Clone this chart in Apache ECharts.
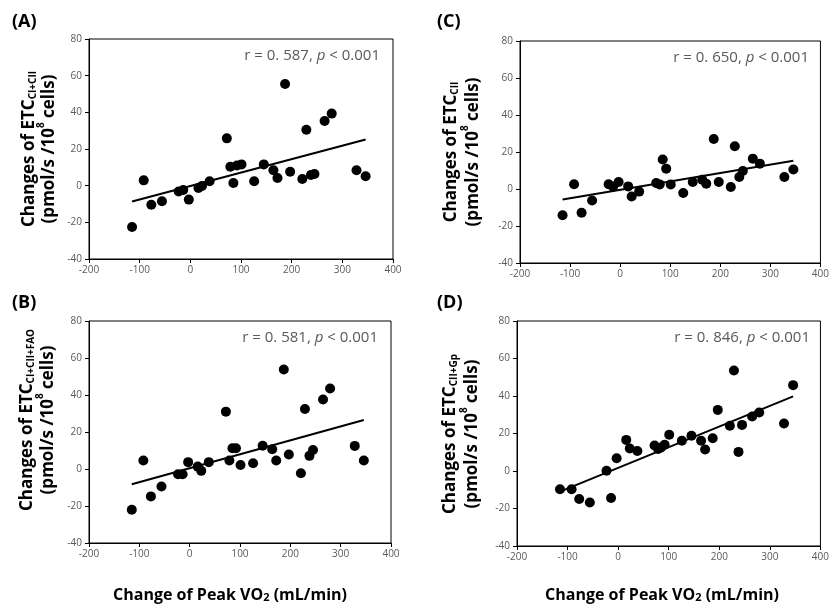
<!DOCTYPE html>
<html><head><meta charset="utf-8">
<script src="https://cdn.jsdelivr.net/npm/echarts@6/dist/echarts.min.js"></script>
<style>html,body{margin:0;padding:0;background:#fff}#c{width:832px;height:611px}</style>
</head><body><div id="c"></div>
<script>
// Change of Peak VO2 (mL/min) — shared by all panels
const peakVO2Change = [-115, -92, -77, -56, -23, -14, -3, 16, 23, 38, 72, 79, 85, 92, 101, 126, 145, 164, 172, 187, 197, 221, 229, 238, 245, 265, 279, 328, 346];
// (A) Changes of ETC CI+CII
const etcCIplusCII = [-22.5, 2.9, -10.4, -8.5, -3.2, -2.4, -7.6, -1.3, -0.2, 2.4, 25.8, 10.3, 1.5, 11.0, 11.6, 2.4, 11.6, 8.4, 4.2, 55.5, 7.6, 3.6, 30.5, 5.8, 6.4, 35.3, 39.3, 8.4, 5.1];
// (B) Changes of ETC CI+CII+FAO
const etcCIplusCIIplusFAO = [-22.0, 4.6, -14.8, -9.5, -2.8, -2.8, 3.7, 1.3, -1.0, 3.7, 31.0, 4.6, 11.2, 11.2, 2.2, 3.1, 12.6, 10.7, 4.6, 53.8, 7.8, -2.3, 32.4, 7.1, 10.3, 37.6, 43.5, 12.5, 4.6];
// (C) Changes of ETC CII
const etcCII = [-14.2, 2.6, -12.8, -6.2, 2.6, 1.3, 3.8, 1.4, -4.1, -1.4, 3.2, 2.5, 15.9, 11.0, 2.5, -2.2, 3.8, 5.0, 2.9, 27.0, 3.8, 1.1, 23.1, 6.5, 9.7, 16.4, 13.7, 6.5, 10.5];
// (D) Changes of ETC CII+Gp
const etcCIIplusGp = [-9.7, -9.7, -14.9, -16.8, 0.1, -14.4, 6.8, 16.6, 12.0, 10.7, 13.6, 11.8, 12.5, 14.0, 19.3, 16.1, 18.8, 16.1, 11.5, 17.5, 32.6, 24.1, 53.6, 10.2, 24.6, 29.1, 31.2, 25.3, 45.8];

const xTicks = [-200, -100, 0, 100, 200, 300, 400];
const yTicks = [-40, -20, 0, 20, 40, 60, 80];
const panelLabels = ['(A)', '(B)', '(C)', '(D)'];
const rValues = ['0. 587', '0. 581', '0. 650', '0. 846'];
const pValue = '< 0.001';
const subscripts = ['CI+CII', 'CI+CII+FAO', 'CII', 'CII+Gp'];
const xTitle = 'Change of Peak VO';

const panels = [etcCIplusCII, etcCIplusCIIplusFAO, etcCII, etcCIIplusGp];

// layout (positions only)
const grids = [
  {left: 89, top: 39, width: 304, height: 220},
  {left: 89, top: 321, width: 302, height: 222},
  {left: 520, top: 41, width: 302, height: 222},
  {left: 517, top: 321, width: 306, height: 225}
];
const FONT = '"Open Sans", "DejaVu Sans", sans-serif';

function fit(xs, ys) {
  const n = xs.length;
  let sx = 0, sy = 0, sxx = 0, sxy = 0;
  for (let i = 0; i < n; i++) { sx += xs[i]; sy += ys[i]; sxx += xs[i] * xs[i]; sxy += xs[i] * ys[i]; }
  const b = (n * sxy - sx * sy) / (n * sxx - sx * sx);
  const a = (sy - b * sx) / n;
  const x0 = Math.min(...xs), x1 = Math.max(...xs);
  return [[x0, a + b * x0], [x1, a + b * x1]];
}

const option = {
  animation: false,
  backgroundColor: '#fff',
  grid: grids.map(g => Object.assign({show: true, borderColor: '#000', borderWidth: 1, backgroundColor: 'transparent'}, g)),
  xAxis: grids.map((g, i) => ({
    type: 'value', gridIndex: i,
    min: xTicks[0], max: xTicks[xTicks.length - 1], interval: xTicks[1] - xTicks[0],
    axisLine: {onZero: false, lineStyle: {color: '#000', width: 1}},
    axisTick: {show: true, inside: false, length: 4, lineStyle: {color: '#000'}},
    splitLine: {show: false},
    axisLabel: {color: '#595959', fontSize: 10, fontFamily: FONT, margin: 6}
  })),
  yAxis: grids.map((g, i) => ({
    type: 'value', gridIndex: i,
    min: yTicks[0], max: yTicks[yTicks.length - 1], interval: yTicks[1] - yTicks[0],
    axisLine: {show: true, onZero: false, lineStyle: {color: '#000', width: 1}},
    axisTick: {show: true, inside: false, length: 4, lineStyle: {color: '#000'}},
    splitLine: {show: false},
    axisLabel: {color: '#595959', fontSize: 10, fontFamily: FONT, margin: 7}
  })),
  series: []
};

panels.forEach((ys, i) => {
  option.series.push({
    type: 'line', xAxisIndex: i, yAxisIndex: i, z: 2,
    data: fit(peakVO2Change, ys), showSymbol: false, symbol: 'none',
    lineStyle: {color: '#000', width: 2}, silent: true
  });
  option.series.push({
    type: 'scatter', xAxisIndex: i, yAxisIndex: i, z: 3,
    data: peakVO2Change.map((x, k) => [x, ys[k]]),
    symbol: 'circle', symbolSize: 10,
    itemStyle: {color: '#000', opacity: 1}, silent: true
  });
});

const graphics = [];
const labelPos = [[12, 22], [12, 303], [437, 22], [437, 303]];
const ytitleX = [[27, 47], [25, 46], [449, 471], [448, 470]];
const ytitleY = [149, 420, 152, 434];
grids.forEach((g, i) => {
  graphics.push({
    type: 'text', x: labelPos[i][0], y: labelPos[i][1],
    style: {text: panelLabels[i], fontFamily: FONT, fontWeight: 'bold', fontSize: 18, fill: '#000', align: 'left', verticalAlign: 'middle'}
  });
  graphics.push({
    type: 'text', x: g.left + g.width - 13, y: g.top + 17,
    style: {
      text: '{n|r = ' + rValues[i] + ', }{i|p}{n| ' + pValue + '}',
      align: 'right', verticalAlign: 'middle',
      rich: {
        n: {fontFamily: FONT, fontSize: 15, fill: '#595959'},
        i: {fontFamily: FONT, fontSize: 15, fill: '#595959', fontStyle: 'italic'}
      }
    }
  });
  graphics.push({
    type: 'text', x: ytitleX[i][0], y: ytitleY[i], rotation: Math.PI / 2,
    style: {
      text: '{b|Changes of ETC}{s|' + subscripts[i] + '}',
      align: 'center', verticalAlign: 'middle',
      rich: {
        b: {fontFamily: FONT, fontSize: 17, fontWeight: 'bold', fill: '#000', lineHeight: 22, verticalAlign: 'bottom'},
        s: {fontFamily: FONT, fontSize: 10, fontWeight: 'bold', fill: '#000', lineHeight: 12, verticalAlign: 'bottom'}
      }
    }
  });
  graphics.push({
    type: 'text', x: ytitleX[i][1], y: ytitleY[i], rotation: Math.PI / 2,
    style: {
      text: '{b|(pmol/s /10}{u|8}{b| cells)}',
      align: 'center', verticalAlign: 'middle',
      rich: {
        b: {fontFamily: FONT, fontSize: 17, fontWeight: 'bold', fill: '#000', lineHeight: 22, verticalAlign: 'bottom'},
        u: {fontFamily: FONT, fontSize: 10, fontWeight: 'bold', fill: '#000', lineHeight: 12, verticalAlign: 'top'}
      }
    }
  });
});
[[230, 592], [662, 592]].forEach(p => {
  graphics.push({
    type: 'text', x: p[0], y: p[1],
    style: {
      text: '{b|' + xTitle + '}{s|2}{b| (mL/min)}',
      align: 'center', verticalAlign: 'middle',
      rich: {
        b: {fontFamily: FONT, fontSize: 16, fontWeight: 'bold', fill: '#000', lineHeight: 22, verticalAlign: 'bottom'},
        s: {fontFamily: FONT, fontSize: 11, fontWeight: 'bold', fill: '#000', lineHeight: 14, verticalAlign: 'bottom'}
      }
    }
  });
});
option.graphic = graphics;

const chart = echarts.init(document.getElementById('c'), null, {renderer: 'canvas'});
chart.setOption(option);
</script>
</body></html>
